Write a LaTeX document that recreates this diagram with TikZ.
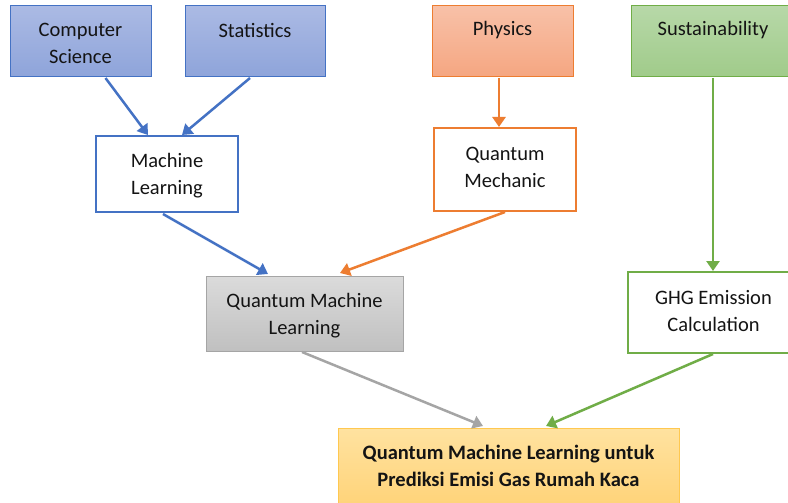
\documentclass[tikz,border=0pt]{standalone}
\usepackage{fontspec}
\setmainfont{Carlito}
\usetikzlibrary{arrows.meta,calc}

\definecolor{bluedge}{RGB}{68,114,196}
\definecolor{bluetop}{RGB}{171,186,228}
\definecolor{bluebot}{RGB}{142,164,218}
\definecolor{orgedge}{RGB}{237,125,49}
\definecolor{orgtop}{RGB}{248,193,168}
\definecolor{orgbot}{RGB}{245,166,129}
\definecolor{grnedge}{RGB}{112,173,71}
\definecolor{grntop}{RGB}{183,216,168}
\definecolor{grnbot}{RGB}{160,203,138}
\definecolor{grytop}{RGB}{219,219,219}
\definecolor{grybot}{RGB}{192,192,192}
\definecolor{gryedge}{RGB}{165,165,165}
\definecolor{yeltop}{RGB}{255,226,160}
\definecolor{yelbot}{RGB}{255,212,122}
\definecolor{yeledge}{RGB}{255,200,80}
\definecolor{ink}{RGB}{20,20,20}

\tikzset{
  lbl/.style={inner sep=0pt, align=center, text=ink,
    font=\fontsize{20.5}{27}\selectfont},
  box/.style={rectangle, inner sep=0pt, outer sep=0pt},
  topbox/.style={box, line width=1pt},
  framebox/.style={box, fill=white, line width=2.5pt},
  link/.style={line width=2.5pt, -{Triangle[width=13pt,length=10pt]}},
}

\begin{document}
\begin{tikzpicture}[x=1pt,y=-1pt]
\clip (0,0) rectangle (788,503);
\fill[white] (0,0) rectangle (788,503);

% source disciplines
\node[topbox, draw=bluedge, top color=bluetop, bottom color=bluebot,
  minimum width=141, minimum height=71,
  label={[lbl, yshift=-2pt]center:Computer\\Science}] (cs) at (80.5,41.5) {};
\node[topbox, draw=bluedge, top color=bluetop, bottom color=bluebot,
  minimum width=140, minimum height=71,
  label={[lbl, yshift=11pt]center:Statistics}] (st) at (255,41.5) {};
\node[topbox, draw=orgedge, top color=orgtop, bottom color=orgbot,
  minimum width=141, minimum height=71,
  label={[lbl, yshift=11pt]center:Physics}] (ph) at (502.5,41.5) {};
\node[topbox, draw=grnedge, top color=grntop, bottom color=grnbot,
  minimum width=164, minimum height=71,
  label={[lbl, yshift=11pt]center:Sustainability}] (su) at (713,41.5) {};

% intermediate fields
\node[framebox, draw=bluedge, minimum width=142, minimum height=76,
  label={[lbl, yshift=-2pt]center:Machine\\Learning}] (ml) at (167,174) {};
\node[framebox, draw=orgedge, minimum width=142, minimum height=83,
  label={[lbl, yshift=2pt]center:Quantum\\Mechanic}] (qm) at (505,169.5) {};
\node[box, draw=gryedge, line width=1pt, top color=grytop, bottom color=grybot,
  minimum width=197, minimum height=75,
  label={[lbl, yshift=-2pt]center:Quantum Machine\\Learning}] (qml) at (304.5,313.5) {};
\node[framebox, draw=grnedge, minimum width=171, minimum height=81,
  label={[lbl, yshift=1pt]center:GHG Emission\\Calculation}] (ghg) at (713.5,312.5) {};

% goal
\node[box, draw=yeledge, line width=1pt, top color=yeltop, bottom color=yelbot,
  minimum width=341, minimum height=75,
  label={[lbl, font=\fontsize{20.5}{27}\selectfont\bfseries]center:Quantum Machine Learning untuk\\Prediksi Emisi Gas Rumah Kaca}]
  (goal) at (508.5,465.5) {};

% connectors
\draw[link, bluedge] ($(cs.south)+(25,1)$) -- ($(ml.north)+(-19,-1)$);
\draw[link, bluedge] ($(st.south)+(-5,1)$) -- ($(ml.north)+(15,-1)$);
\draw[link, orgedge] ($(ph.south)+(-3.5,1)$) -- ($(qm.north)+(-6,-1)$);
\draw[link, grnedge] ($(su.south)+(0,1)$) -- ($(ghg.north)+(-0.5,-1)$);
\draw[link, bluedge] ($(ml.south)+(-4,2)$) -- ($(qml.north)+(-36.5,-2)$);
\draw[link, orgedge] ($(qm.south)+(0,1)$) -- ($(qml.north)+(35.5,-3)$);
\draw[link, gryedge] ($(qml.south)+(-2.5,1)$) -- ($(goal.north)+(-25.5,-2)$);
\draw[link, grnedge] ($(ghg.south)+(-0.5,1)$) -- ($(goal.north)+(37.5,-2)$);
\end{tikzpicture}
\end{document}
